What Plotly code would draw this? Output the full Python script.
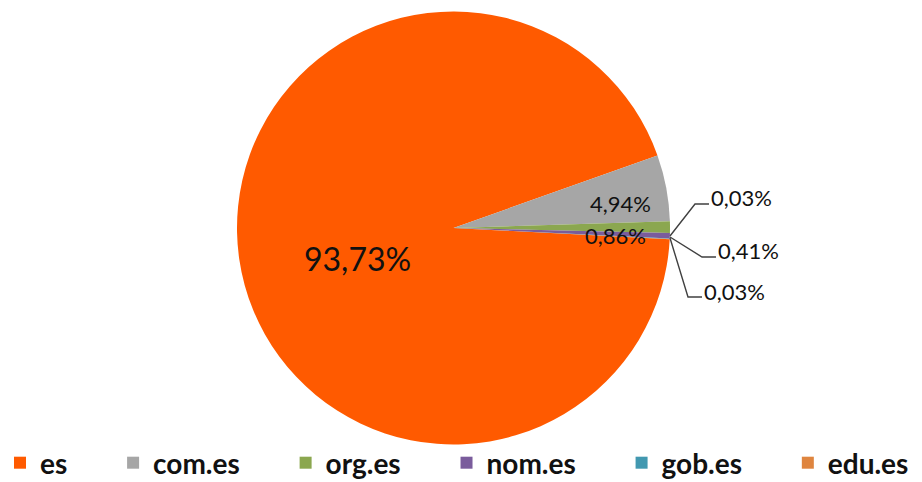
import plotly.graph_objects as go

W, H = 922, 482

labels = ["es", "com.es", "org.es", "nom.es", "gob.es", "edu.es"]
values = [93.73, 4.94, 0.86, 0.41, 0.03, 0.03]
colors = ["#FF5A00", "#A6A6A6", "#8BA74F", "#7A5C9C", "#4298B0", "#DF853F"]


def pct(v):
    return f"{v:.2f}".replace(".", ",") + "%"


def px(x):
    return x / W


def py(y):
    return 1 - y / H


# legend entries padded so spacing matches the original layout (last one unpadded)
legend_labels = [lab + ("\u00a0" * 6 if i < len(labels) - 1 else "") for i, lab in enumerate(labels)]

cx, cy, r = 453.5, 228.0, 216.5

fig = go.Figure(
    go.Pie(
        labels=legend_labels,
        values=values,
        marker=dict(colors=colors, line=dict(width=0)),
        sort=False,
        direction="clockwise",
        rotation=93,
        textinfo="none",
        hoverinfo="label+percent",
        domain=dict(x=[px(cx - r), px(cx + r)], y=[py(cy + r), py(cy - r)]),
    )
)

label_font = dict(family="Lato, Open Sans, sans-serif", color="#111111")

annotations = [
    # (slice index, x, y, size, xanchor)
    (0, 357.5, 258, 32, "center"),
    (1, 620, 203, 22, "center"),
    (2, 615, 235, 22, "center"),
    (4, 709, 197, 22, "left"),
    (3, 716, 250, 22, "left"),
    (5, 702, 291, 22, "left"),
]
for idx, x, y, size, xa in annotations:
    fig.add_annotation(
        x=px(x), y=py(y), xref="paper", yref="paper",
        text=pct(values[idx]), showarrow=False,
        xanchor=xa, yanchor="middle",
        font=dict(size=size, **label_font),
    )

leaders = [
    [(670, 236), (695, 204), (709, 204)],
    [(670, 237), (702, 257), (716, 257)],
    [(670, 238), (688, 297), (702, 297)],
]
for pts in leaders:
    path = "M " + " L ".join(f"{px(a):.5f},{py(b):.5f}" for a, b in pts)
    fig.add_shape(type="path", path=path, xref="paper", yref="paper",
                  line=dict(color="#404040", width=1.4))

fig.update_layout(
    width=W, height=H,
    margin=dict(l=0, r=0, t=0, b=0, autoexpand=False),
    paper_bgcolor="white", plot_bgcolor="white",
    showlegend=True,
    legend=dict(
        orientation="h", x=0, xanchor="left", y=py(463), yanchor="middle",
        font=dict(family="Lato, Open Sans, sans-serif", size=28, color="#111111", weight="bold"),
        bgcolor="rgba(0,0,0,0)",
        itemclick=False,
    ),
)

fig.write_html(
    "out.html",
    config={"displayModeBar": False},
    post_script="document.body.style.margin='0';",
)
